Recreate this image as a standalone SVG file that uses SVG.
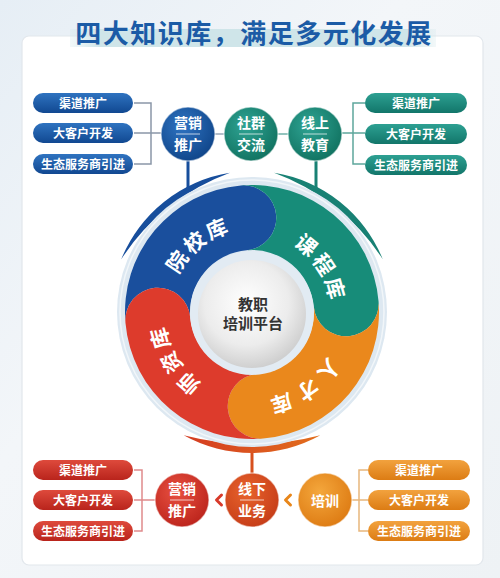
<svg xmlns="http://www.w3.org/2000/svg" width="500" height="578" viewBox="0 0 500 578">
<defs>
<linearGradient id="bg" x1="0" y1="0" x2="1" y2="1"><stop offset="0" stop-color="#e6eef5"/><stop offset="0.4" stop-color="#f3f6f9"/><stop offset="1" stop-color="#eef2f5"/></linearGradient>
<linearGradient id="hl" x1="0" y1="0" x2="1" y2="0"><stop offset="0" stop-color="#d6e9ec" stop-opacity="0.3"/><stop offset="0.08" stop-color="#cfe5e9"/><stop offset="0.92" stop-color="#cfe5e9"/><stop offset="1" stop-color="#d6e9ec" stop-opacity="0.3"/></linearGradient>
<linearGradient id="pb" x1="0" y1="0" x2="0" y2="1"><stop offset="0" stop-color="#2f73c0"/><stop offset="1" stop-color="#114891"/></linearGradient>
<linearGradient id="pg" x1="0" y1="0" x2="0" y2="1"><stop offset="0" stop-color="#2da092"/><stop offset="1" stop-color="#12766a"/></linearGradient>
<linearGradient id="pr" x1="0" y1="0" x2="0" y2="1"><stop offset="0" stop-color="#de4a3c"/><stop offset="1" stop-color="#b9241c"/></linearGradient>
<linearGradient id="po" x1="0" y1="0" x2="0" y2="1"><stop offset="0" stop-color="#f2a23e"/><stop offset="1" stop-color="#dc7c14"/></linearGradient>
<radialGradient id="cb" cx="0.4" cy="0.35" r="0.7"><stop offset="0" stop-color="#2f74c2"/><stop offset="1" stop-color="#0f4488"/></radialGradient>
<radialGradient id="cg" cx="0.4" cy="0.35" r="0.7"><stop offset="0" stop-color="#2fa494"/><stop offset="1" stop-color="#10715f"/></radialGradient>
<radialGradient id="cr" cx="0.4" cy="0.35" r="0.7"><stop offset="0" stop-color="#e85040"/><stop offset="1" stop-color="#bb231b"/></radialGradient>
<radialGradient id="cro" cx="0.4" cy="0.35" r="0.7"><stop offset="0" stop-color="#e8632c"/><stop offset="1" stop-color="#c53c18"/></radialGradient>
<radialGradient id="co" cx="0.4" cy="0.35" r="0.7"><stop offset="0" stop-color="#f4a73c"/><stop offset="1" stop-color="#dd7a12"/></radialGradient>
<radialGradient id="cc" cx="0.45" cy="0.4" r="0.65"><stop offset="0" stop-color="#ffffff"/><stop offset="0.6" stop-color="#ececec"/><stop offset="1" stop-color="#c9c9c9"/></radialGradient>
<linearGradient id="ab" x1="0" y1="0" x2="1" y2="0"><stop offset="0" stop-color="#d43c22"/><stop offset="1" stop-color="#e26e1c"/></linearGradient>
</defs>
<style>
text{font-family:"Noto Sans CJK SC","Noto Sans",sans-serif;font-weight:bold;}
.pt{fill:#fff;font-size:12px;text-anchor:middle;}
.ct{fill:#fff;font-size:14px;text-anchor:middle;}
.st{fill:#fff;font-size:21px;text-anchor:middle;}
.ln{fill:none;stroke-width:1.5;}
.dv{stroke:#fff;stroke-opacity:0.7;stroke-width:1;}
.cs{stroke:#fff;stroke-opacity:0.5;stroke-width:1.5;}
</style>
<rect width="500" height="578" fill="url(#bg)"/>
<rect x="22" y="36" width="461" height="529" rx="7" fill="#ffffff" stroke="#e2e7ec" stroke-width="1.2"/>
<g id="title">
<rect x="70" y="29" width="366" height="18" fill="url(#hl)"/>
<text x="254" y="43" text-anchor="middle" font-size="26" fill="#1b5ba6" letter-spacing="1.5">四大知识库，满足多元化发展</text>
</g>

<g id="connectors">
<path class="ln" stroke="#8a97a8" d="M134 103 H151 V164 H134 M134 133 H161"/>
<path class="ln" stroke="#9aa8b8" d="M215 134 H224"/>
<path class="ln" stroke="#6fb1a8" d="M278 134 H288"/>
<path class="ln" stroke="#5ea69c" d="M365 103 H353 V164 H365 M342 133 H365"/>
<path class="ln" stroke="#e08a8c" d="M134 470 H142 V531 H134 M134 500 H155"/>
<path class="ln" stroke="#e8b77c" d="M368 470 H359 V531 H368 M352 500 H368"/>
<line x1="188" y1="160" x2="188" y2="188" stroke="#174e9c" stroke-width="3"/>
<line x1="316" y1="160" x2="316" y2="188" stroke="#188174" stroke-width="3"/>
<line x1="252" y1="450" x2="252" y2="474" stroke="#d7501e" stroke-width="3"/>
<polyline points="221.5,495 216.5,500 221.5,505" fill="none" stroke="#d83a2a" stroke-width="3" stroke-linecap="round" stroke-linejoin="round"/>
<polyline points="290.5,495 285.5,500 290.5,505" fill="none" stroke="#e8861a" stroke-width="3" stroke-linecap="round" stroke-linejoin="round"/>
</g>

<g id="wheel">
<path d="M121.26 259.18 A141 141 0 0 1 229.95 172.74 A219 219 0 0 0 121.26 259.18 Z" fill="#174e9c"/>
<path d="M274.05 172.74 A141 141 0 0 1 382.74 259.18 A219 219 0 0 0 274.05 172.74 Z" fill="#188174"/>
<path d="M320.36 435.32 A141 141 0 0 1 183.64 435.32 A273 273 0 0 0 320.36 435.32 Z" fill="url(#ab)"/>
<circle cx="252" cy="312" r="135" fill="#dde8f1"/>
<circle cx="252" cy="312" r="132" fill="none" stroke="#ffffff" stroke-opacity="0.6" stroke-width="1.5"/>
</g>
<g id="seg-blue">
<path d="M125.48 323.07 A127 127 0 0 1 240.93 185.48 A32.5 32.5 0 0 1 246.60 250.24 A62 62 0 0 0 190.24 317.40 A32.5 32.5 0 0 0 125.48 323.07 Z" fill="#1a4f9d"/>
<text class="st" transform="translate(177.4 261.7) rotate(-56)" dy="0.36em">院</text>
<text class="st" transform="translate(194.7 242.5) rotate(-39.5)" dy="0.36em">校</text>
<text class="st" transform="translate(216.8 229.2) rotate(-23)" dy="0.36em">库</text>
</g>
<g id="seg-green">
<path d="M240.93 185.48 A127 127 0 0 1 378.52 300.93 A32.5 32.5 0 0 1 313.76 306.60 A62 62 0 0 0 246.60 250.24 A32.5 32.5 0 0 0 240.93 185.48 Z" fill="#178c79"/>
<text class="st" transform="translate(306.1 245.2) rotate(39)" dy="0.36em">课</text>
<text class="st" transform="translate(323.7 264.5) rotate(56.5)" dy="0.36em">程</text>
<text class="st" transform="translate(334.7 288.3) rotate(74)" dy="0.36em">库</text>
</g>
<g id="seg-orange">
<path d="M378.52 300.93 A127 127 0 0 1 263.07 438.52 A32.5 32.5 0 0 1 257.40 373.76 A62 62 0 0 0 313.76 306.60 A32.5 32.5 0 0 0 378.52 300.93 Z" fill="#ea881c"/>
<text class="st" transform="translate(328.7 369.8) rotate(127)" dy="0.36em">人</text>
<text class="st" transform="translate(307.8 390.1) rotate(144.5)" dy="0.36em">才</text>
<text class="st" transform="translate(281.7 403.3) rotate(162)" dy="0.36em">库</text>
</g>
<g id="seg-red">
<path d="M263.07 438.52 A127 127 0 0 1 125.48 323.07 A32.5 32.5 0 0 1 190.24 317.40 A62 62 0 0 0 257.40 373.76 A32.5 32.5 0 0 0 263.07 438.52 Z" fill="#dd3b2c"/>
<text class="st" transform="translate(189.0 383.2) rotate(221.5)" dy="0.36em">师</text>
<text class="st" transform="translate(171.4 362.3) rotate(238)" dy="0.36em">资</text>
<text class="st" transform="translate(160.7 338.2) rotate(254)" dy="0.36em">库</text>
</g>
<g id="center">
<circle cx="252" cy="313" r="62" fill="#e2ebf3"/>
<circle cx="252" cy="314" r="54" fill="url(#cc)"/>
<text x="253" y="310" text-anchor="middle" font-size="15" fill="#333">教职</text>
<text x="253" y="329" text-anchor="middle" font-size="15" fill="#333">培训平台</text>
</g>

<g id="tl-pills">
<rect x="33" y="93" width="100" height="20" rx="10" fill="url(#pb)"/>
<text class="pt" x="83" y="107.5">渠道推广</text>
<rect x="33" y="123" width="100" height="20" rx="10" fill="url(#pb)"/>
<text class="pt" x="83" y="137.5">大客户开发</text>
<rect x="33" y="154" width="100" height="20" rx="10" fill="url(#pb)"/>
<text class="pt" x="83" y="168.5">生态服务商引进</text>
</g>
<g id="tr-pills">
<rect x="365" y="93" width="102" height="20" rx="10" fill="url(#pg)"/>
<text class="pt" x="416" y="107.5">渠道推广</text>
<rect x="365" y="124" width="102" height="20" rx="10" fill="url(#pg)"/>
<text class="pt" x="416" y="138.5">大客户开发</text>
<rect x="365" y="155" width="102" height="20" rx="10" fill="url(#pg)"/>
<text class="pt" x="416" y="169.5">生态服务商引进</text>
</g>
<g id="bl-pills">
<rect x="33" y="460" width="100" height="20" rx="10" fill="url(#pr)"/>
<text class="pt" x="83" y="474.5">渠道推广</text>
<rect x="33" y="490" width="100" height="20" rx="10" fill="url(#pr)"/>
<text class="pt" x="83" y="504.5">大客户开发</text>
<rect x="33" y="521" width="100" height="20" rx="10" fill="url(#pr)"/>
<text class="pt" x="83" y="535.5">生态服务商引进</text>
</g>
<g id="br-pills">
<rect x="368" y="460" width="102" height="20" rx="10" fill="url(#po)"/>
<text class="pt" x="419" y="474.5">渠道推广</text>
<rect x="368" y="490" width="102" height="20" rx="10" fill="url(#po)"/>
<text class="pt" x="419" y="504.5">大客户开发</text>
<rect x="368" y="521" width="102" height="20" rx="10" fill="url(#po)"/>
<text class="pt" x="419" y="535.5">生态服务商引进</text>
</g>

<g id="top-marketing">
<circle class="cs" cx="188" cy="134" r="27" fill="url(#cb)"/>
<text class="ct" x="188" y="128">营销</text>
<line class="dv" x1="176" y1="134" x2="200" y2="134"/>
<text class="ct" x="188" y="150">推广</text>
</g>
<g id="community">
<circle class="cs" cx="251" cy="134" r="27" fill="url(#cg)"/>
<text class="ct" x="251" y="128">社群</text>
<line class="dv" x1="239" y1="134" x2="263" y2="134"/>
<text class="ct" x="251" y="150">交流</text>
</g>
<g id="online">
<circle class="cs" cx="315" cy="134" r="27" fill="url(#cg)"/>
<text class="ct" x="315" y="128">线上</text>
<line class="dv" x1="303" y1="134" x2="327" y2="134"/>
<text class="ct" x="315" y="150">教育</text>
</g>
<g id="bottom-marketing">
<circle class="cs" cx="182" cy="500" r="27" fill="url(#cr)"/>
<text class="ct" x="182" y="494">营销</text>
<line class="dv" x1="170" y1="500" x2="194" y2="500"/>
<text class="ct" x="182" y="516">推广</text>
</g>
<g id="offline">
<circle class="cs" cx="252" cy="500" r="27" fill="url(#cro)"/>
<text class="ct" x="252" y="494">线下</text>
<line class="dv" x1="240" y1="500" x2="264" y2="500"/>
<text class="ct" x="252" y="516">业务</text>
</g>
<g id="training">
<circle class="cs" cx="325" cy="500" r="27" fill="url(#co)"/>
<text class="ct" x="325" y="505.5" font-size="15">培训</text>
</g>
</svg>
